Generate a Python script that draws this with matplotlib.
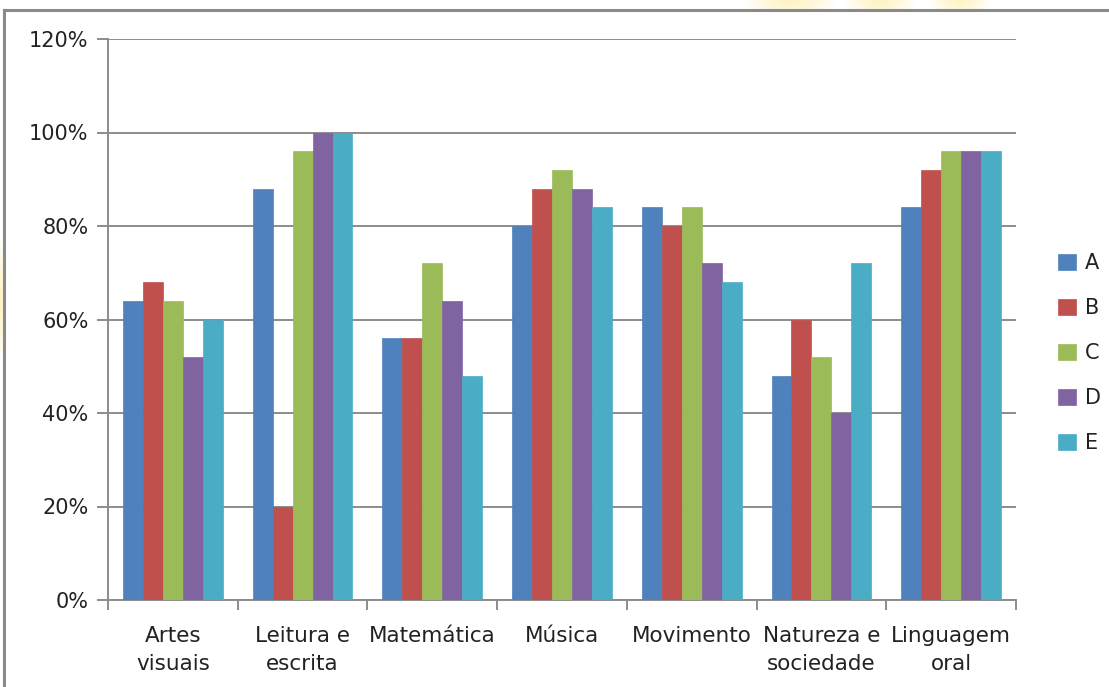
import matplotlib
matplotlib.use("Agg")
import matplotlib.pyplot as plt
from matplotlib.patches import Ellipse
from matplotlib.lines import Line2D
import numpy as np

categories = ["Artes\nvisuais", "Leitura e\nescrita", "Matemática", "Música",
              "Movimento", "Natureza e\nsociedade", "Linguagem\noral"]
series_names = ["A", "B", "C", "D", "E"]
series_A = [64, 88, 56, 80, 84, 48, 84]
series_B = [68, 20, 56, 88, 80, 60, 92]
series_C = [64, 96, 72, 92, 84, 52, 96]
series_D = [52, 100, 64, 88, 72, 40, 96]
series_E = [60, 100, 48, 84, 68, 72, 96]
y_ticks = [0, 20, 40, 60, 80, 100, 120]
y_tick_labels = ["0%", "20%", "40%", "60%", "80%", "100%", "120%"]

colors = ["#4F81BD", "#C0504D", "#9BBB59", "#8064A2", "#4BACC6"]
grid_color = "#8C8C8C"

plt.rcParams["font.family"] = ["DejaVu Sans"]

fig = plt.figure(figsize=(11.09, 6.87), dpi=100)
fig.patch.set_facecolor("white")

# soft yellow glow behind the chart frame
bg = fig.add_axes([0, 0, 1, 1], zorder=-5)
bg.set_xlim(0, 1109)
bg.set_ylim(687, 0)
bg.axis("off")
for cx, cy, w, h in [(790, 2, 90, 30), (880, 2, 70, 30), (960, 2, 60, 26),
                     (2, 300, 22, 120)]:
    for k in range(8):
        bg.add_patch(Ellipse((cx, cy), w * (1 - k * 0.11), h * (1 - k * 0.11),
                             color="#FFE97A", alpha=0.06, lw=0))
# chart frame (top and left edges)
bg.add_patch(plt.Rectangle((5, 11), 1104, 676, color="white", lw=0))
bg.add_line(Line2D([4, 4], [10, 687], color="#8A8A8A", lw=2.2))
bg.add_line(Line2D([4, 1109], [10, 10], color="#8A8A8A", lw=2.2))

ax = fig.add_axes([108 / 1109, 1 - 600 / 687, (1016 - 108) / 1109, (600 - 39) / 687])
ax.set_facecolor("none")

all_series = [series_A, series_B, series_C, series_D, series_E]
n = len(all_series)
x = np.arange(len(categories))
bar_w = 1 / (n + 1.5)
for i, (vals, col, name) in enumerate(zip(all_series, colors, series_names)):
    offs = (i - (n - 1) / 2) * bar_w
    ax.bar(x + offs, vals, width=bar_w, color=col, label=name, zorder=3,
           edgecolor=col, linewidth=0.5)

ax.set_xlim(-0.5, len(categories) - 0.5)
ax.set_ylim(0, 120)
ax.set_yticks(y_ticks)
ax.set_yticklabels(y_tick_labels, fontsize=15, color="#222222")
ax.yaxis.grid(True, color=grid_color, lw=1.4, zorder=0)
ax.set_axisbelow(True)

ax.set_xticks(x)
ax.set_xticklabels(categories, fontsize=15.5, color="#222222", linespacing=1.5)
ax.set_xticks(np.arange(len(categories) + 1) - 0.5, minor=True)
ax.tick_params(axis="x", which="major", length=0, pad=19)
ax.tick_params(axis="x", which="minor", length=7, color=grid_color, width=1.4)
ax.tick_params(axis="y", length=8, color=grid_color, width=1.4, pad=6)

for s in ["top", "right"]:
    ax.spines[s].set_visible(False)
for s in ["left", "bottom"]:
    ax.spines[s].set_color(grid_color)
    ax.spines[s].set_linewidth(1.4)

leg = ax.legend(loc="center left", bbox_to_anchor=(1.035, 0.44), frameon=False,
                fontsize=15, handlelength=0.85, handleheight=0.85,
                handletextpad=0.45, labelspacing=1.2, borderpad=0)
for t in leg.get_texts():
    t.set_color("#222222")

fig.savefig("out.png", dpi=100, facecolor="white")
